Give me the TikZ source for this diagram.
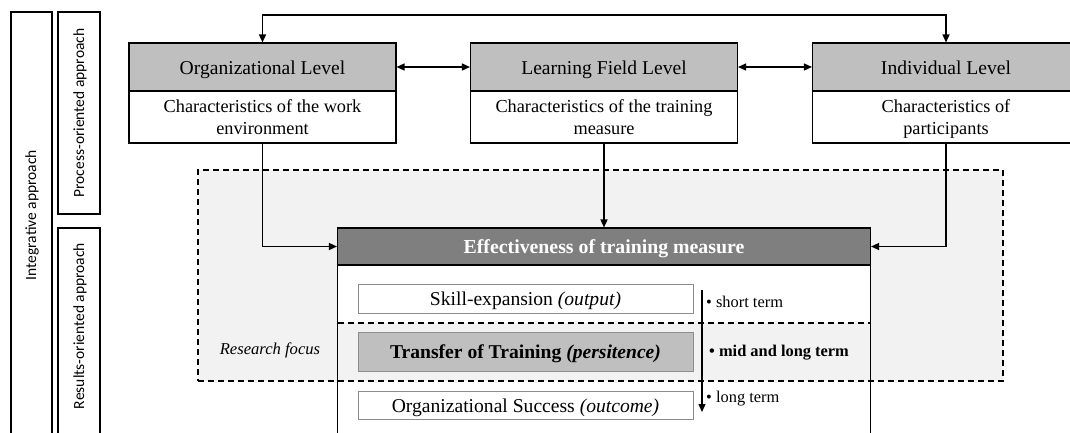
\documentclass[tikz,border=0pt]{standalone}
\usepackage{fontspec}
\setmainfont{Liberation Serif}
\newfontfamily\sidefont{Carlito}
\usetikzlibrary{arrows.meta}
\definecolor{hdr}{HTML}{BFBFBF}
\definecolor{effc}{HTML}{7F7F7F}
\definecolor{focus}{HTML}{F2F2F2}
\definecolor{inb}{HTML}{8C8C8C}
\begin{document}
\begin{tikzpicture}[x=1pt,y=-1pt,
  lvlhead/.style={draw=black, line width=1.1pt, fill=hdr, minimum width=267pt, minimum height=48pt, inner sep=0pt, text height=16pt, text depth=2pt, font=\fontsize{19.6}{22}\selectfont},
  lvldesc/.style={draw=black, line width=1.1pt, fill=white, minimum width=267pt, minimum height=52pt, inner sep=0pt, text depth=0pt, align=center, font=\fontsize{18.3}{22}\selectfont},
  sidebox/.style={draw=black, line width=1.1pt, inner sep=0pt},
  sidetext/.style={rotate=90, font=\sidefont\fontsize{15.5}{18}\selectfont, inner sep=0pt},
  inbox/.style={draw=inb, line width=1pt, minimum width=335pt, inner sep=0pt, text height=16pt, text depth=2pt, font=\fontsize{19.6}{22}\selectfont},
  smalltxt/.style={anchor=west, inner sep=0pt, font=\fontsize{16.4}{18}\selectfont},
  conn/.style={line width=1.4pt, -{Triangle[length=8pt,width=7pt]}},
  biconn/.style={line width=1.4pt, {Triangle[length=8pt,width=7pt]}-{Triangle[length=8pt,width=7pt]}},
  dsh/.style={line width=1.1pt, dash pattern=on 6pt off 4pt}
]
\useasboundingbox (0,0) rectangle (1070,432);

% left side boxes
\node[sidebox, minimum width=41pt, minimum height=428pt] (intB) at (31.5,226) {};
\node[sidebox, minimum width=42pt, minimum height=202pt] (procB) at (79,113) {};
\node[sidebox, minimum width=42pt, minimum height=212pt] (resB) at (79,334) {};
\node[sidetext] (intT) at (32,215) {Integrative approach};
\node[sidetext] (procT) at (80,113) {Process-oriented approach};
\node[sidetext] (resT) at (80,326) {Results-oriented approach};

% research focus region (fill)
\path[fill=focus] (198,170) rectangle (1003,381);
% effectiveness body white parts
\path[fill=white] (337.5,265) rectangle (870.5,323);
\path[fill=white] (337.5,381) rectangle (870.5,440);
\node[dsh, draw, minimum width=805pt, minimum height=211pt, inner sep=0pt] (focusR) at (600.5,275.5) {};
\draw[dsh] (337.5,323) -- (870.5,323);
\node[font=\itshape\fontsize{16.6}{18}\selectfont, inner sep=0pt] (rfT) at (270,350) {Research focus};

% level boxes
\node[lvlhead] (orgH) at (262.5,67) {Organizational Level};
\node[lvldesc] (orgD) at (262.5,117) {Characteristics of the work\\environment};
\node[lvlhead] (lfH) at (604,67) {Learning Field Level};
\node[lvldesc] (lfD) at (604,117) {Characteristics of the training\\measure};
\node[lvlhead] (indH) at (946,67) {Individual Level};
\node[lvldesc] (indD) at (946,117) {Characteristics of\\participants};

% effectiveness box
\node[draw=black, line width=1.1pt, minimum width=533pt, minimum height=175pt, inner sep=0pt] (effB) at (604,352.5) {};
\node[draw=black, line width=1.1pt, fill=effc, text=white, minimum width=533pt, minimum height=37pt, inner sep=0pt, text height=16pt, text depth=2pt, font=\bfseries\fontsize{19.8}{22}\selectfont] (effH) at (604,246.5) {Effectiveness of training measure};

% inner boxes
\node[inbox, fill=white, minimum height=29pt] (skill) at (525.5,298.5) {Skill-expansion \textit{(output)}};
\node[inbox, fill=hdr, minimum height=39pt, font=\bfseries\fontsize{19.6}{22}\selectfont] (transfer) at (525.5,351.5) {Transfer of Training \textit{(persitence)}};
\node[inbox, fill=white, minimum height=28pt] (orgsucc) at (525.5,405) {Organizational Success \textit{(outcome)}};

% time arrow and labels
\coordinate (tA) at (702,290);
\coordinate (tB) at (702,412);
\draw[conn, line width=1.3pt] (tA) -- (tB);
\node[smalltxt] (st) at (706,302) {• short term};
\node[smalltxt, font=\bfseries\fontsize{16.4}{18}\selectfont] (mt) at (709,352.5) {• mid and long term};
\node[smalltxt] (lt) at (706,398.5) {• long term};

% connectors
\coordinate (topc) at (600,15);
\draw[biconn] (orgH.north) |- (topc) -| (indH.north);
\draw[biconn] (orgH.east) -- (lfH.west);
\draw[biconn] (lfH.east) -- (indH.west);
\draw[conn] (orgD.south) |- (effH.west);
\draw[conn] (lfD.south) -- (effH.north);
\draw[conn] (indD.south) |- (effH.east);
\end{tikzpicture}
\end{document}
